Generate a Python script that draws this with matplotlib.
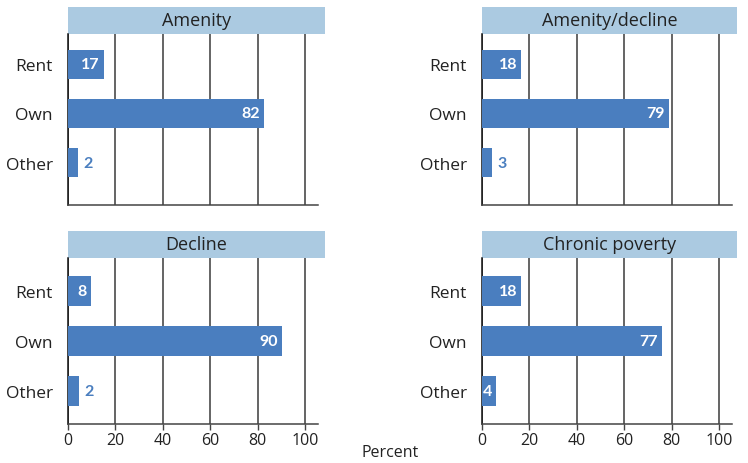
import matplotlib.pyplot as plt
from matplotlib.patches import Rectangle

plt.rcParams['font.family'] = ['Open Sans', 'DejaVu Sans']

categories = ['Rent', 'Own', 'Other']
panel_titles = ['Amenity', 'Amenity/decline', 'Decline', 'Chronic poverty']
# bar lengths as drawn, and the numbers printed on them
amenity = [15.2, 82.7, 4.1]
amenity_decline = [16.6, 78.8, 4.3]
decline = [9.7, 90.3, 4.6]
chronic = [16.6, 75.8, 6.0]
amenity_lbl = ['17', '82', '2']
amenity_decline_lbl = ['18', '79', '3']
decline_lbl = ['8', '90', '2']
chronic_lbl = ['18', '77', '4']
xticks = [0, 20, 40, 60, 80, 100]

bar_color = '#4a7ebf'
head_color = '#abcae1'
W, H = 748, 464

fig = plt.figure(figsize=(W / 100, H / 100), dpi=100)

# axes boxes in pixels: (left, top, right, bottom)
boxes = [(68, 35, 318, 206), (482, 35, 732, 206),
         (68, 259, 318, 425), (482, 259, 732, 425)]
ylims = [(2.86, -0.61), (2.86, -0.61), (2.66, -0.66), (2.66, -0.66)]
series = [amenity, amenity_decline, decline, chronic]
labels = [amenity_lbl, amenity_decline_lbl, decline_lbl, chronic_lbl]

for i in range(4):
    l, t, r, b = boxes[i]
    ax = fig.add_axes([l / W, (H - b) / H, (r - l) / W, (b - t) / H])
    vals = series[i]
    ypos = list(range(len(categories)))
    ax.barh(ypos, vals, height=0.59, color=bar_color, zorder=3)
    ax.set_xlim(0, 105.5)
    ax.set_ylim(*ylims[i])
    ax.set_yticks(ypos)
    ax.set_yticklabels(categories, fontsize=12.5, color='#222222')
    ax.tick_params(axis='y', length=0, pad=11)
    ax.set_xticks(xticks)
    ax.grid(axis='x', color='#3a3a3a', lw=1.1, zorder=1)
    ax.set_axisbelow(True)
    for s in ['top', 'right']:
        ax.spines[s].set_visible(False)
    ax.spines['left'].set_color('#111111')
    ax.spines['left'].set_linewidth(1.1)
    ax.spines['bottom'].set_color('#444444')
    ax.spines['bottom'].set_linewidth(1.1)
    if i < 2:
        ax.tick_params(axis='x', length=0, labelbottom=False)
    else:
        ax.tick_params(axis='x', length=4, width=1, color='#444444',
                       labelsize=11.5, labelcolor='#222222', pad=2)

    # value labels
    for y, v, txt in zip(ypos, vals, labels[i]):
        if v > 5:
            ax.text(v - 1.8, y, txt, ha='right', va='center', color='white',
                    fontsize=11.5, fontweight='bold', family='Lato', zorder=4)
        else:
            ax.text(v + 2.3, y, txt, ha='left', va='center', color=bar_color,
                    fontsize=11.5, fontweight='bold', family='Lato', zorder=4)

    # header box
    hw = (737 - 482) / 250 if i % 2 else (325 - 68) / 250
    hh = 27 / (b - t)
    ax.add_patch(Rectangle((0, 1), hw, hh, transform=ax.transAxes,
                           facecolor=head_color, edgecolor='none', clip_on=False))
    ax.text(hw / 2, 1 + hh / 2, panel_titles[i], transform=ax.transAxes,
            ha='center', va='center', fontsize=13, color='#222222')

fig.text(390 / W, 1 - 453 / H, 'Percent', ha='center', va='center',
         fontsize=11.5, color='#222222')

fig.savefig('out.png', dpi=100)
